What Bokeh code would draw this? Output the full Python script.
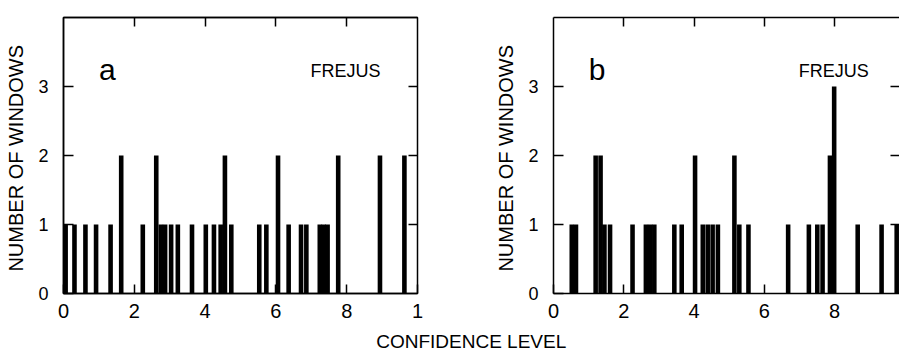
from bokeh.plotting import figure
from bokeh.models import Range1d, LinearAxis, FixedTicker, Label
from bokeh.layouts import row, column
from bokeh.embed import file_html
from bokeh.resources import INLINE

FONT = "Liberation Sans"

# ---- data (confidence level, number of windows) ----
a_level = [0.006, 0.031, 0.062, 0.092, 0.133, 0.163, 0.224, 0.262, 0.275, 0.287,
           0.304, 0.323, 0.363, 0.402, 0.425, 0.444, 0.456, 0.474, 0.553, 0.573,
           0.606, 0.636, 0.671, 0.686, 0.724, 0.735, 0.746, 0.776, 0.894, 0.963]
a_count = [1, 1, 1, 1, 1, 2, 1, 2, 1, 1,
           1, 1, 1, 1, 1, 1, 2, 1, 1, 1,
           2, 1, 1, 1, 1, 1, 1, 2, 2, 2]

b_level = [0.052, 0.064, 0.120, 0.134, 0.145, 0.161, 0.225, 0.263, 0.275, 0.287,
           0.344, 0.365, 0.403, 0.425, 0.439, 0.453, 0.468, 0.515, 0.529, 0.555,
           0.668, 0.727, 0.751, 0.766, 0.787, 0.799, 0.866, 0.934, 0.977]
b_count = [1, 1, 2, 2, 1, 1, 1, 1, 1, 1,
           1, 1, 2, 1, 1, 1, 1, 2, 1, 1,
           1, 1, 1, 1, 2, 3, 1, 1, 1]

x_ticks = [0, 0.2, 0.4, 0.6, 0.8, 1.0]
x_tick_labels = ["0", "2", "4", "6", "8", "1"]
y_ticks = [0, 1, 2, 3]
y_tick_labels = ["0", "1", "2", "3"]
panel_letters = ["a", "b"]
site = "FREJUS"
y_title = "NUMBER  OF WINDOWS"
x_title = "CONFIDENCE   LEVEL"

BAR_W = 0.013
INK = "black"


def blank_axis(ticks, draw_line):
    return LinearAxis(ticker=FixedTicker(ticks=ticks),
                      major_label_overrides={t: "" for t in ticks},
                      major_label_text_font_size="1px",
                      major_label_standoff=0, major_tick_in=9, major_tick_out=0,
                      minor_tick_line_color=None,
                      major_tick_line_color=INK,
                      axis_line_color=INK if draw_line else None,
                      axis_line_width=1.5, major_tick_line_width=1.5)


def make_panel(levels, counts, letter, width, x_end, mb_left, mb_right, mb_top, mb_bottom, outline):
    p = figure(width=width, height=328, x_range=Range1d(0, x_end), y_range=Range1d(0, 4),
               output_backend="svg", toolbar_location=None,
               min_border_left=mb_left, min_border_right=mb_right,
               min_border_top=mb_top, min_border_bottom=mb_bottom)
    p.background_fill_color = "white"
    p.border_fill_color = "white"
    p.xgrid.visible = False
    p.ygrid.visible = False
    if outline:
        p.outline_line_color = INK
        p.outline_line_width = 1.5
        p.outline_line_alpha = 1.0
    else:
        p.outline_line_color = None

    p.vbar(x=levels, top=counts, bottom=0, width=BAR_W, fill_color=INK, line_color=None)

    xa = p.xaxis[0]
    xa.ticker = FixedTicker(ticks=x_ticks)
    xa.major_label_overrides = {t: s for t, s in zip(x_ticks, x_tick_labels)}
    xa.major_label_text_font = FONT
    xa.major_label_text_font_size = "20px"
    xa.major_label_text_color = INK
    xa.major_label_standoff = 10
    xa.major_tick_in = 9
    xa.major_tick_out = 0
    xa.minor_tick_line_color = None
    xa.axis_line_color = INK
    xa.major_tick_line_color = INK
    xa.axis_line_width = 1.5
    xa.major_tick_line_width = 1.5

    ya = p.yaxis[0]
    ya.ticker = FixedTicker(ticks=y_ticks)
    ya.major_label_overrides = {t: s for t, s in zip(y_ticks, y_tick_labels)}
    ya.major_label_text_font = FONT
    ya.major_label_text_font_size = "18px"
    ya.major_label_text_color = INK
    ya.major_label_standoff = 15
    ya.major_tick_in = 10
    ya.major_tick_out = 0
    ya.minor_tick_line_color = None
    ya.axis_line_color = INK
    ya.major_tick_line_color = INK
    ya.axis_line_width = 1.5
    ya.major_tick_line_width = 1.5
    ya.axis_label = y_title
    ya.axis_label_text_font = FONT
    ya.axis_label_text_font_size = "20px"
    ya.axis_label_text_font_style = "normal"
    ya.axis_label_text_color = INK
    ya.axis_label_standoff = 8

    p.add_layout(blank_axis(x_ticks[1:-1], True), "above")
    p.add_layout(blank_axis(y_ticks[1:], False), "right")

    p.add_layout(Label(x=0.1, y=3.25, text=letter, text_font=FONT, text_font_size="30px",
                       text_color=INK, text_baseline="alphabetic", text_align="left"))
    p.add_layout(Label(x=0.698, y=3.22, text=site, text_font=FONT, text_font_size="18px",
                       text_color=INK, text_baseline="alphabetic", text_align="left"))
    return p


pa = make_panel(a_level, a_count, panel_letters[0], 488, 1.0, 63, 71, 13, 35, True)
pb = make_panel(b_level, b_count, panel_letters[1], 411, 0.985, 65, 0, 17, 31, False)

pc = figure(width=899, height=23, x_range=Range1d(0, 899), y_range=Range1d(0, 23),
            x_axis_type=None, y_axis_type=None, output_backend="svg", toolbar_location=None,
            min_border=0)
pc.outline_line_color = None
pc.add_layout(Label(x=476, y=10, text=x_title, text_color=INK,
                    text_align="center", text_baseline="middle", text_font=FONT,
                    text_font_size="19px"))

layout = column(row(pa, pb), pc)
open("out.html", "w").write(file_html(layout, INLINE))
